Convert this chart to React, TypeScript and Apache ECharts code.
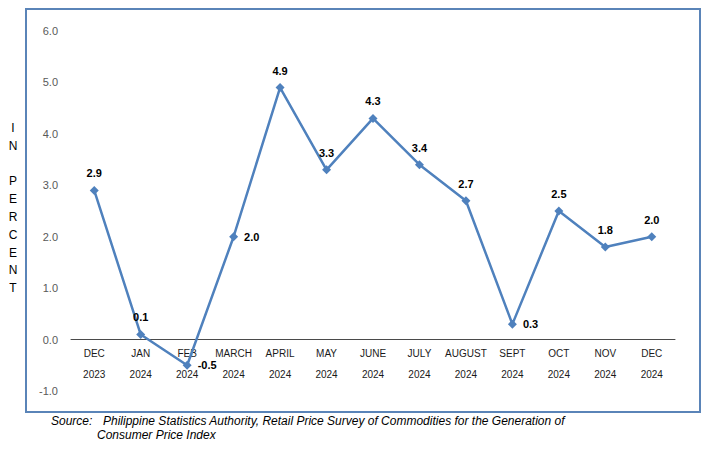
import React, { useEffect, useRef } from "react";
import * as echarts from "echarts";

const months = ["DEC", "JAN", "FEB", "MARCH", "APRIL", "MAY", "JUNE", "JULY", "AUGUST", "SEPT", "OCT", "NOV", "DEC"];
const years = ["2023", "2024", "2024", "2024", "2024", "2024", "2024", "2024", "2024", "2024", "2024", "2024", "2024"];
const values = [2.9, 0.1, -0.5, 2.0, 4.9, 3.3, 4.3, 3.4, 2.7, 0.3, 2.5, 1.8, 2.0];
const labelSides = ["top", "top", "right", "right", "top", "top", "top", "top", "top", "right", "top", "top", "top"];
const yTitle = "I\nN\n\nP\nE\nR\nC\nE\nN\nT";
const sourceLabel = "Source:";
const sourceLine1 = "Philippine Statistics Authority, Retail Price Survey of Commodities for the Generation of";
const sourceLine2 = "Consumer Price Index";

export default function App() {
  const ref = useRef<HTMLDivElement>(null);
  useEffect(() => {
    if (!ref.current) return;
    const chart = echarts.init(ref.current, null, { renderer: "svg" });
    const categories = months.map((m, i) => m + "\n" + years[i]);
    chart.setOption({
      animation: false,
      backgroundColor: "#ffffff",
      grid: { left: 71, right: 33, top: 31, bottom: 64 },
      xAxis: {
        type: "category",
        data: categories,
        boundaryGap: true,
        axisLine: { onZero: true, lineStyle: { color: "#4a4a4a", width: 1 } },
        axisTick: { show: false },
        axisLabel: {
          interval: 0,
          margin: -48.5,
          fontSize: 10,
          lineHeight: 21,
          color: "#1a1a1a",
          fontFamily: "Liberation Sans, Arial, sans-serif",
        },
      },
      yAxis: {
        type: "value",
        min: -1,
        max: 6,
        interval: 1,
        axisLine: { show: false },
        axisTick: { show: false },
        splitLine: { show: false },
        axisLabel: {
          margin: 13,
          fontSize: 11,
          color: "#595959",
          fontFamily: "Liberation Sans, Arial, sans-serif",
          formatter: (v: number) => v.toFixed(1),
        },
      },
      series: [
        {
          type: "line",
          data: values.map((v, i) => ({
            value: v,
            label: {
              position: labelSides[i],
              distance: labelSides[i] === "right" ? 6 : 7,
            },
          })),
          symbol: "diamond",
          symbolSize: 9,
          lineStyle: { color: "#4f81bd", width: 2.5 },
          itemStyle: { color: "#4f81bd" },
          label: {
            show: true,
            fontSize: 11,
            fontWeight: "bold",
            color: "#000000",
            fontFamily: "Liberation Sans, Arial, sans-serif",
            formatter: (p: any) => Number(p.value).toFixed(1),
          },
        },
      ],
      graphic: [
        {
          type: "rect",
          shape: { x: 26, y: 9, width: 674, height: 403 },
          style: { fill: "none", stroke: "#5a84b8", lineWidth: 2 },
          silent: true,
        },
        {
          type: "text",
          x: 13,
          y: 208,
          style: {
            text: yTitle,
            fontSize: 12,
            lineHeight: 17.8,
            fill: "#000000",
            align: "center",
            verticalAlign: "middle",
            fontFamily: "Liberation Sans, Arial, sans-serif",
          },
        },
        {
          type: "text",
          x: 51,
          y: 421,
          style: {
            text: sourceLabel,
            fontSize: 12,
            fontStyle: "italic",
            fill: "#000000",
            verticalAlign: "middle",
            fontFamily: "Liberation Sans, Arial, sans-serif",
          },
        },
        {
          type: "text",
          x: 103,
          y: 421,
          style: {
            text: sourceLine1,
            fontSize: 12,
            fontStyle: "italic",
            fill: "#000000",
            verticalAlign: "middle",
            fontFamily: "Liberation Sans, Arial, sans-serif",
          },
        },
        {
          type: "text",
          x: 97,
          y: 435,
          style: {
            text: sourceLine2,
            fontSize: 12,
            fontStyle: "italic",
            fill: "#000000",
            verticalAlign: "middle",
            fontFamily: "Liberation Sans, Arial, sans-serif",
          },
        },
      ],
    });
    return () => chart.dispose();
  }, []);
  return (
    <div
      ref={ref}
      style={{ position: "absolute", left: 0, top: 0, width: 708, height: 455 }}
    />
  );
}
